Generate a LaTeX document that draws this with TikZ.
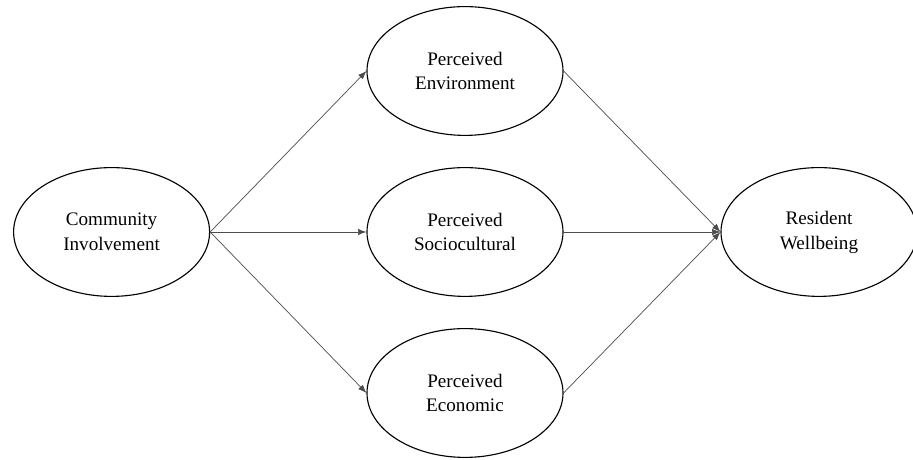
\documentclass[tikz,border=0pt]{standalone}
\usepackage{fontspec}
\setmainfont{Liberation Serif}
\usetikzlibrary{shapes.geometric,arrows.meta}
\definecolor{line-gray}{gray}{0.3}

\tikzset{
  construct/.style={draw, ellipse, line width=0.8pt, minimum width=4.9cm, minimum height=3.22cm,
    inner sep=0pt, align=center, font=\fontsize{13.6}{17.7}\selectfont},
  path/.style={->, line width=0.5pt, color=line-gray}
}

\begin{document}
\begin{tikzpicture}[>={Latex[length=6pt,width=4.5pt]}]

			\useasboundingbox (0,0) rectangle (22.825,11.5);

			% the five constructs
			\node[construct] (involve) at (2.79,5.7) {Community\\Involvement};
			\node[construct] (environ) at (11.625,9.725) {Perceived\\Environment};
			\node[construct] (socio) at (11.625,5.7) {Perceived\\Sociocultural};
			\node[construct] (econ) at (11.625,1.675) {Perceived\\Economic};
			\node[construct] (wellbeing) at (20.475,5.7) {Resident\\Wellbeing};

			% paths
			\foreach \m in {environ,socio,econ}{
				\draw[path] (involve.east)--(\m.west);
				\draw[path] (\m.east)--(wellbeing.west);
			}

\end{tikzpicture}
\end{document}
